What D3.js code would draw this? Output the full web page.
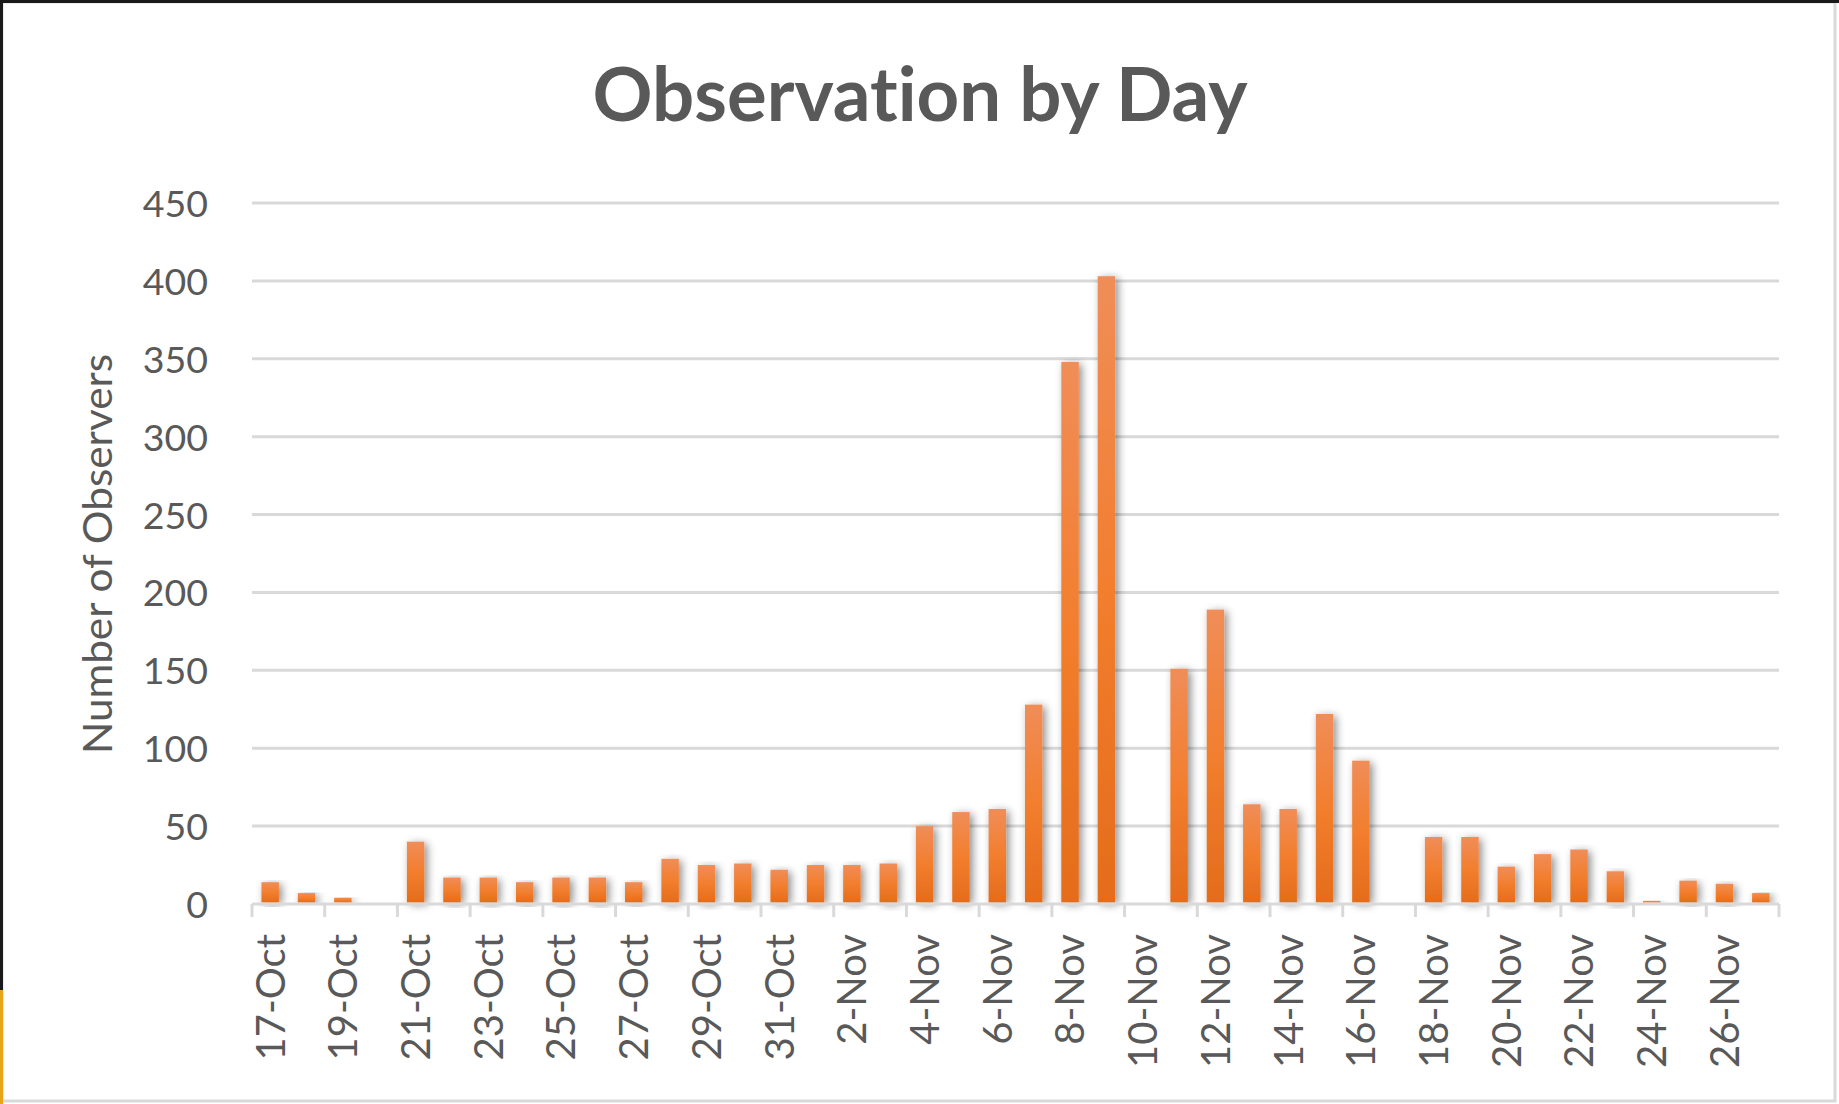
<!DOCTYPE html>
<html>
<head>
<meta charset="utf-8">
<script src="https://cdn.jsdelivr.net/npm/d3@7"></script>
<style>
  html, body { margin: 0; padding: 0; background: #ffffff; }
  svg { display: block; }
  text { font-family: "Lato", "Open Sans", "Liberation Sans", sans-serif; fill: #595959;
         font-variant-ligatures: none; font-feature-settings: "liga" 0, "clig" 0; }
</style>
</head>
<body>
<svg id="chart" width="1839" height="1104"></svg>
<script>
// ---- data ----
const categories = [
  "17-Oct","18-Oct","19-Oct","20-Oct","21-Oct","22-Oct","23-Oct","24-Oct","25-Oct","26-Oct",
  "27-Oct","28-Oct","29-Oct","30-Oct","31-Oct","1-Nov","2-Nov","3-Nov","4-Nov","5-Nov",
  "6-Nov","7-Nov","8-Nov","9-Nov","10-Nov","11-Nov","12-Nov","13-Nov","14-Nov","15-Nov",
  "16-Nov","17-Nov","18-Nov","19-Nov","20-Nov","21-Nov","22-Nov","23-Nov","24-Nov","25-Nov",
  "26-Nov","27-Nov"
];
const observers = [
  14, 7, 4, 0, 40, 17, 17, 14, 17, 17,
  14, 29, 25, 26, 22, 25, 25, 26, 50, 59,
  61, 128, 348, 403, 0, 151, 189, 64, 61, 122,
  92, 0, 43, 43, 24, 32, 35, 21, 2, 15,
  13, 7
];
const yTicks = [0, 50, 100, 150, 200, 250, 300, 350, 400, 450];
const xLabelEvery = 2;
const chartTitle = "Observation by Day";
const yTitle = "Number of Observers";

// ---- layout ----
const W = 1839, H = 1104;
const plot = { left: 252, right: 1779, top: 203, bottom: 904 };
const svg = d3.select("#chart");

const defs = svg.append("defs");
const grad = defs.append("linearGradient").attr("id", "barGrad")
  .attr("x1", 0).attr("y1", 0).attr("x2", 0).attr("y2", 1);
grad.append("stop").attr("offset", "0%").attr("stop-color", "#F08D58");
grad.append("stop").attr("offset", "50%").attr("stop-color", "#F27E2E");
grad.append("stop").attr("offset", "100%").attr("stop-color", "#E46C1B");
const shadow = defs.append("filter").attr("id", "barShadow")
  .attr("x", "-80%").attr("y", "-10%").attr("width", "260%").attr("height", "130%");
shadow.append("feDropShadow").attr("dx", 3).attr("dy", 2).attr("stdDeviation", 4.5)
  .attr("flood-color", "#000").attr("flood-opacity", 0.45);

// background & frame
svg.append("rect").attr("x", 0).attr("y", 0).attr("width", W).attr("height", H).attr("fill", "#fff");
svg.append("rect").attr("x", 2).attr("y", 2).attr("width", W - 6).attr("height", H - 5)
  .attr("fill", "none").attr("stroke", "#D9D9D9").attr("stroke-width", 3);
svg.append("line").attr("x1", 0).attr("x2", W).attr("y1", 1.5).attr("y2", 1.5)
  .attr("stroke", "#1a1a1a").attr("stroke-width", 3);
svg.append("line").attr("x1", 1.5).attr("x2", 1.5).attr("y1", 0).attr("y2", 990)
  .attr("stroke", "#1a1a1a").attr("stroke-width", 3);
svg.append("line").attr("x1", 1.5).attr("x2", 1.5).attr("y1", 990).attr("y2", H)
  .attr("stroke", "#E8A317").attr("stroke-width", 3);

// scales
const x = d3.scaleBand().domain(categories).range([plot.left, plot.right])
  .paddingInner(0.52).paddingOuter(0.26);
const y = d3.scaleLinear().domain([0, 450]).range([plot.bottom, plot.top]);

// gridlines
svg.append("g").attr("class", "grid")
  .selectAll("line").data(yTicks.filter(d => d !== 0)).join("line")
  .attr("x1", plot.left).attr("x2", plot.right)
  .attr("y1", d => y(d)).attr("y2", d => y(d))
  .attr("stroke", "#D9D9D9").attr("stroke-width", 3);

// y axis labels
const yAxis = d3.axisLeft(y).tickValues(yTicks).tickSize(0).tickPadding(0);
const yG = svg.append("g").attr("transform", `translate(${208},0)`).call(yAxis);
yG.select(".domain").remove();
yG.selectAll("text").attr("font-size", 37.5).attr("fill", "#595959")
  .attr("font-family", "Lato, 'Open Sans', sans-serif").attr("dy", "0.36em");

// bars
svg.append("g").selectAll("rect").data(categories.map((c, i) => ({ c, v: observers[i] })))
  .join("rect")
  .filter(d => d.v > 0)
  .attr("x", d => x(d.c))
  .attr("width", x.bandwidth())
  .attr("y", d => y(d.v))
  .attr("height", d => y(0) - y(d.v) - 1.5)
  .attr("fill", "url(#barGrad)")
  .attr("filter", "url(#barShadow)");

// x axis line
svg.append("line").attr("x1", plot.left).attr("x2", plot.right)
  .attr("y1", y(0)).attr("y2", y(0))
  .attr("stroke", "#D9D9D9").attr("stroke-width", 3);

// ticks at every 2 category boundaries
const step = x.step();
const boundaries = [];
for (let k = 0; k <= categories.length; k += xLabelEvery) {
  const xb = k < categories.length ? x(categories[k]) - step * x.paddingOuter() : plot.right;
  boundaries.push(xb);
}
svg.append("g").selectAll("line").data(boundaries).join("line")
  .attr("x1", d => d).attr("x2", d => d)
  .attr("y1", y(0)).attr("y2", y(0) + 13)
  .attr("stroke", "#D9D9D9").attr("stroke-width", 3);

// x labels (rotated)
const labelCats = categories.filter((c, i) => i % xLabelEvery === 0);
svg.append("g").selectAll("text").data(labelCats).join("text")
  .attr("transform", d => `translate(${x(d) + x.bandwidth() / 2},${934}) rotate(-90)`)
  .attr("text-anchor", "end")
  .attr("dy", "0.36em")
  .attr("font-size", 40)
  .text(d => d);

// title
svg.append("text")
  .attr("x", 920).attr("y", 121)
  .attr("text-anchor", "middle")
  .attr("font-size", 74).attr("font-weight", 700)
  .attr("textLength", 655).attr("lengthAdjust", "spacingAndGlyphs")
  .text(chartTitle);

// y title
svg.append("text")
  .attr("transform", `translate(${112},${554}) rotate(-90)`)
  .attr("text-anchor", "middle")
  .attr("font-size", 40)
  .attr("textLength", 400).attr("lengthAdjust", "spacingAndGlyphs")
  .text(yTitle);
</script>
</body>
</html>
